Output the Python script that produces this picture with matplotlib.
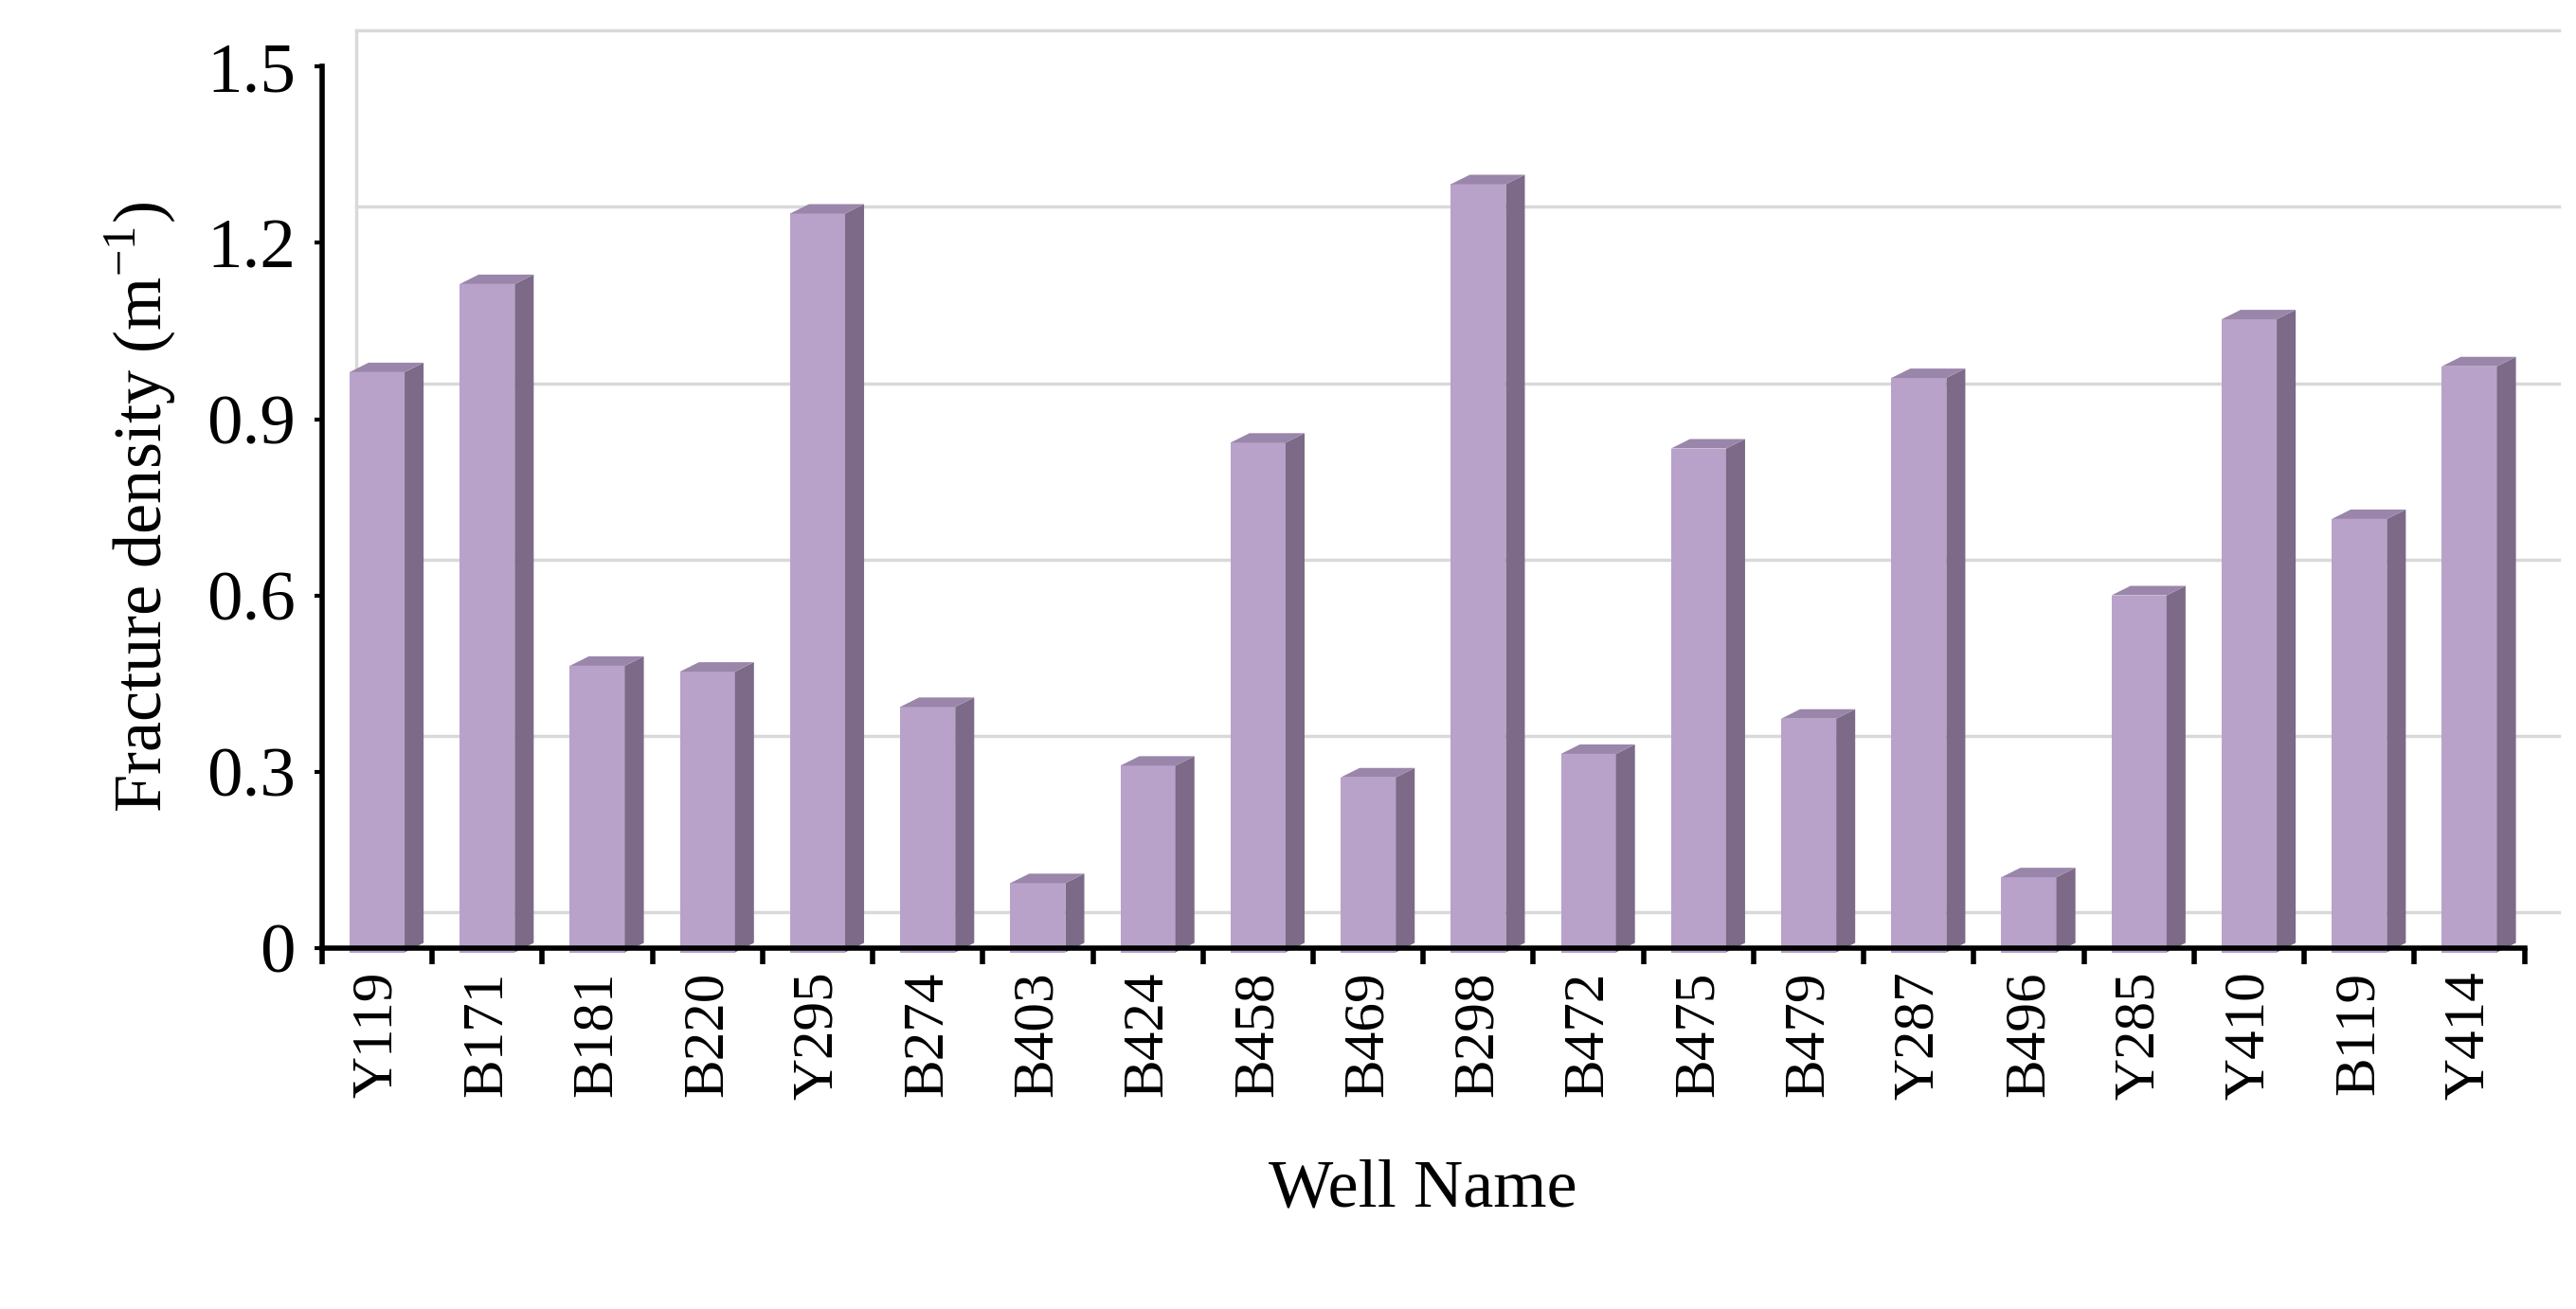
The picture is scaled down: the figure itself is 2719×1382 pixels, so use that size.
import matplotlib
matplotlib.use("Agg")
import matplotlib.pyplot as plt
import matplotlib.transforms as mtrans
from matplotlib.patches import Polygon
import numpy as np

wells = ["Y119", "B171", "B181", "B220", "Y295", "B274", "B403", "B424", "B458", "B469",
         "B298", "B472", "B475", "B479", "Y287", "B496", "Y285", "Y410", "B119", "Y414"]
density = [0.98, 1.13, 0.48, 0.47, 1.25, 0.41, 0.11, 0.31, 0.86, 0.29,
           1.30, 0.33, 0.85, 0.39, 0.97, 0.12, 0.60, 1.07, 0.73, 0.99]
yticks = [0, 0.3, 0.6, 0.9, 1.2, 1.5]
ytick_labels = ["0", "0.3", "0.6", "0.9", "1.2", "1.5"]

plt.rcParams["font.family"] = ["Liberation Serif", "DejaVu Serif"]

fig = plt.figure(figsize=(27.19, 13.82), dpi=100)
ax = fig.add_axes([0.125, 0.276, 0.855, 0.673])
ax.set_xlim(-0.5, len(wells) - 0.5)
ax.set_ylim(0, 1.5)

# back wall gridlines, shifted up/right for the 3D look
shift = mtrans.ScaledTranslation(36 / 100, 38 / 100, fig.dpi_scale_trans)
grid_tr = ax.get_yaxis_transform() + shift
for t in yticks:
    ax.plot([0, 1], [t, t], color="#d9d9d9", lw=2.5, transform=grid_tr, clip_on=False, zorder=0)
ax.plot([0, 0], [0, 1.5], color="#d9d9d9", lw=2.5, transform=grid_tr, clip_on=False, zorder=0)

# bars with side and top faces
x = np.arange(len(wells))
w = 0.5
dx = 20 / 116
dy = 10 / 620
base = -0.008
for xi, v in zip(x, density):
    l, r = xi - w / 2, xi + w / 2
    ax.add_patch(Polygon([[l, base], [r, base], [r, v], [l, v]], closed=True,
                         facecolor="#b9a2c9", edgecolor="none", zorder=3, clip_on=False))
    ax.add_patch(Polygon([[r, base], [r + dx, base + dy], [r + dx, v + dy], [r, v]], closed=True,
                         facecolor="#7c6a88", edgecolor="none", zorder=3, clip_on=False))
    ax.add_patch(Polygon([[l, v], [r, v], [r + dx, v + dy], [l + dx, v + dy]], closed=True,
                         facecolor="#9a86aa", edgecolor="none", zorder=3, clip_on=False))

for s in ["top", "right"]:
    ax.spines[s].set_visible(False)
for s in ["left", "bottom"]:
    ax.spines[s].set_linewidth(4)
    ax.spines[s].set_zorder(5)

ax.set_yticks(yticks)
ax.set_yticklabels(ytick_labels, fontsize=54)
ax.tick_params(axis="y", length=6, width=3, pad=14)

ax.set_xticks(x)
ax.set_xticklabels(wells, rotation=90, fontsize=44)
ax.set_xticks(np.arange(len(wells) + 1) - 0.5, minor=True)
ax.tick_params(axis="x", which="major", length=0, pad=18)
ax.tick_params(axis="x", which="minor", length=12, width=4, direction="out")

ax.set_ylabel(r"Fracture density (m$^{\mathregular{-1}}$)", fontsize=52, labelpad=22)
ax.set_xlabel("Well Name", fontsize=52, labelpad=45)

fig.savefig("out.png", dpi=100)
